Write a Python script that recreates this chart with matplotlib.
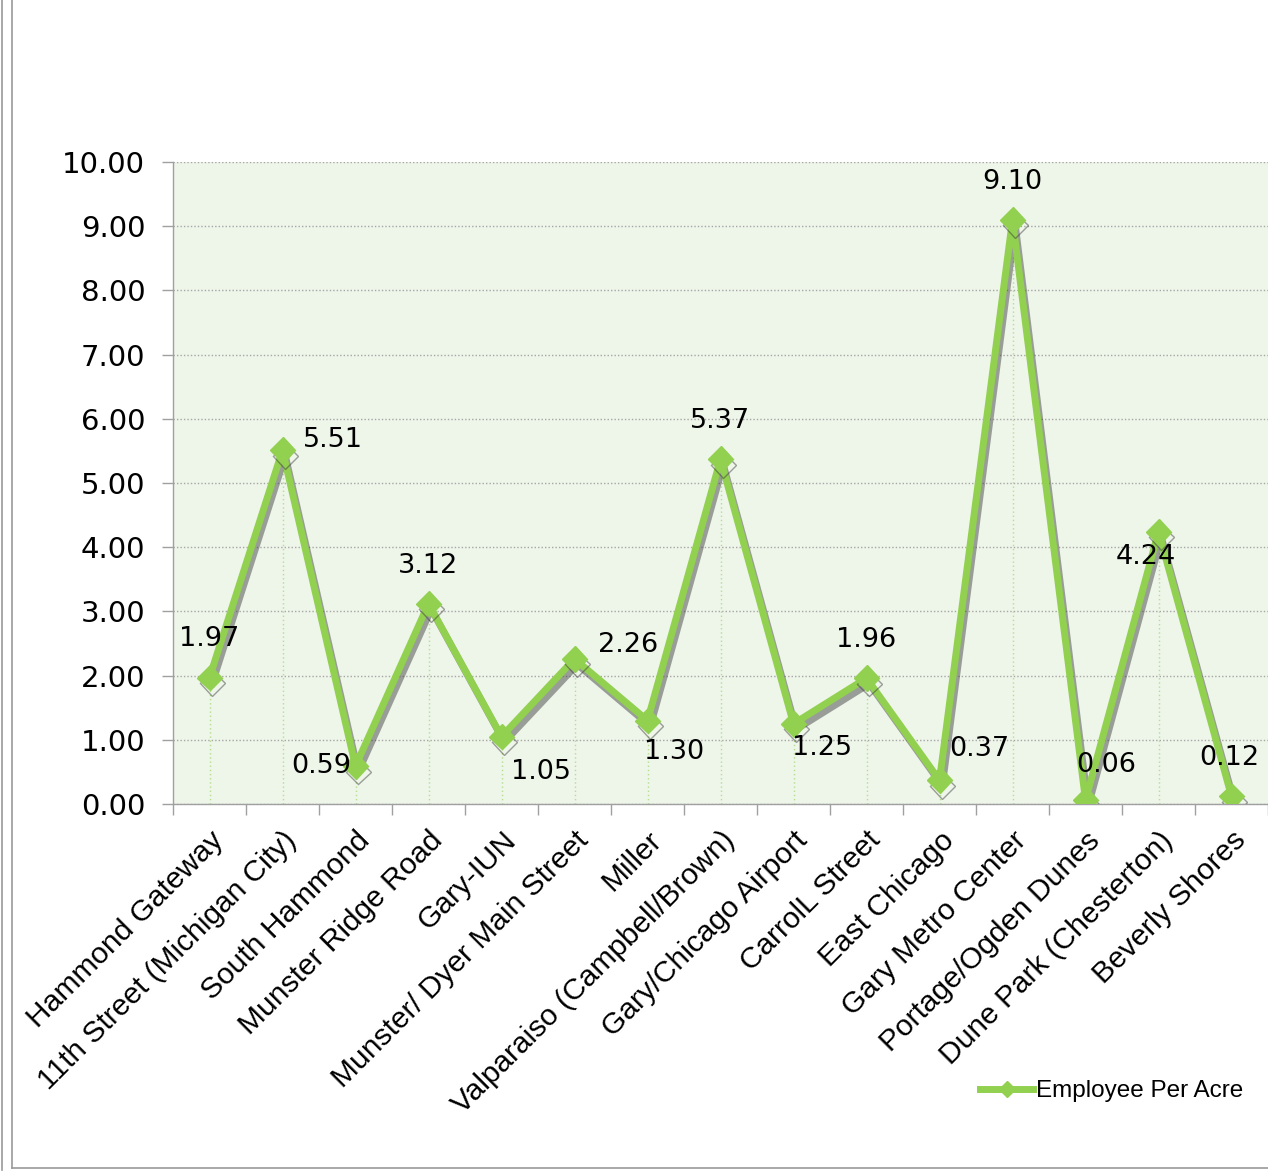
import numpy as np
import matplotlib.pyplot as plt
import matplotlib.patheffects as pe
from matplotlib.lines import Line2D

stations = ["Hammond Gateway", "11th Street (Michigan City)", "South Hammond",
            "Munster Ridge Road", "Gary-IUN", "Munster/ Dyer Main Street", "Miller",
            "Valparaiso (Campbell/Brown)", "Gary/Chicago Airport", "CarrolL Street",
            "East Chicago", "Gary Metro Center", "Portage/Ogden Dunes",
            "Dune Park (Chesterton)", "Beverly Shores"]
emp_per_acre = [1.97, 5.51, 0.59, 3.12, 1.05, 2.26, 1.30, 5.37, 1.25, 1.96,
                0.37, 9.10, 0.06, 4.24, 0.12]
yticks = np.arange(0, 11, 1)

# label offsets in pixels (dx, dy) relative to each point
label_offsets = [(0, 39), (50, 10), (-34, 0), (0, 38), (40, -35), (54, 14),
                 (27, -31), (0, 38), (29, -24), (0, 38), (40, 31), (0, 38),
                 (21, 35), (-13, -25), (-2, 38)]

green = "#92D050"

fig = plt.figure(figsize=(12.68, 11.74), dpi=100)
ax = fig.add_axes([173 / 1268, 1 - 804 / 1174, 1 - 173 / 1268, (804 - 162) / 1174])
ax.set_facecolor("#EEF5E9")

x = np.arange(len(stations))

ax.vlines(x, 0, emp_per_acre, colors="#B5DE8F", linestyles=(0, (1, 2)), lw=1, zorder=1)
ax.yaxis.grid(True, linestyle=(0, (1, 1.5)), color="#A6A6A6", lw=1)
ax.set_axisbelow(True)

shadow = [pe.SimpleLineShadow(offset=(2, -4), shadow_color="#333333", alpha=0.45), pe.Normal()]
ax.plot(x, emp_per_acre, color=green, lw=5, marker="D", markersize=13,
        markeredgecolor=green, zorder=3, path_effects=shadow,
        label="Employee Per Acre")

for xi, v, (dx, dy) in zip(x, emp_per_acre, label_offsets):
    ax.annotate(f"{v:.2f}", (xi, v), xytext=(dx, dy), textcoords="offset pixels",
                ha="center", va="center", fontsize=19.5, family="DejaVu Sans", zorder=4)

ax.set_xlim(-0.5, len(stations) - 0.5)
ax.set_ylim(0, 10)
ax.set_yticks(yticks)
ax.set_yticklabels([f"{t:.2f}" for t in yticks], fontsize=21, family="DejaVu Sans")
ax.tick_params(axis="y", length=8, width=1, color="#A0A0A0", pad=12)

ax.set_xticks(x)
ax.set_xticklabels(stations, rotation=45, ha="right", va="top", rotation_mode="anchor",
                   fontsize=21.5, family="Liberation Sans")
ax.tick_params(axis="x", which="major", length=0, pad=16)
ax.set_xticks(np.arange(-0.5, len(stations), 1), minor=True)
ax.tick_params(axis="x", which="minor", length=8, width=1, color="#A0A0A0")

for s in ["top", "right"]:
    ax.spines[s].set_visible(False)
for s in ["left", "bottom"]:
    ax.spines[s].set_color("#A0A0A0")
    ax.spines[s].set_linewidth(1)

leg = fig.legend(handles=[Line2D([0], [0], color=green, lw=5, marker="D", markersize=8)],
                 labels=["Employee Per Acre"], loc="center left",
                 bbox_to_anchor=(958 / 1268, 1 - 1091 / 1174), frameon=False,
                 prop={"family": "Liberation Sans", "size": 17.5},
                 handlelength=2.2, handletextpad=0.1)

# outer frame lines
fig.add_artist(Line2D([2 / 1268, 2 / 1268], [1, 4 / 1174], color="#9A9A9A", lw=1.2))
fig.add_artist(Line2D([12 / 1268, 12 / 1268], [1, 6 / 1174], color="#9A9A9A", lw=1.2))
fig.add_artist(Line2D([12 / 1268, 1], [6 / 1174, 6 / 1174], color="#9A9A9A", lw=1.2))

fig.savefig("out.png", dpi=100)
